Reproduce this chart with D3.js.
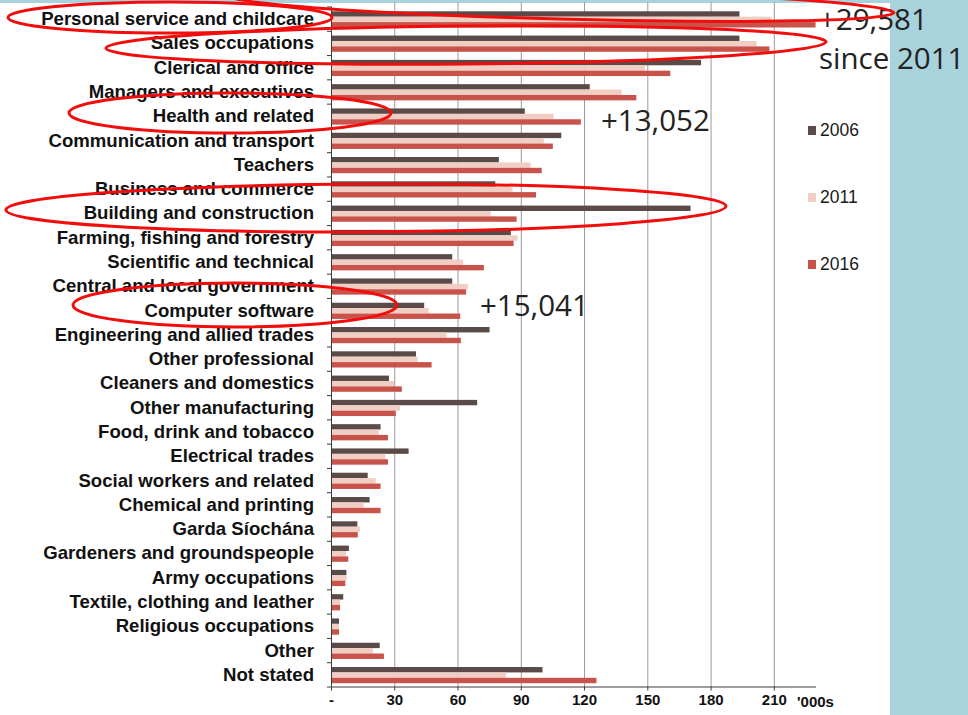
<!DOCTYPE html>
<html>
<head>
<meta charset="utf-8">
<script src="https://cdn.jsdelivr.net/npm/d3@7"></script>
<style>
  body { margin: 0; background: #fff; }
  svg { display: block; }
</style>
</head>
<body>
<svg id="chart" width="968" height="715"></svg>
<script>
// occupations, top to bottom
const categories = [
  "Personal service and childcare", "Sales occupations", "Clerical and office",
  "Managers and executives", "Health and related", "Communication and transport",
  "Teachers", "Business and commerce", "Building and construction",
  "Farming, fishing and forestry", "Scientific and technical",
  "Central and local government", "Computer software",
  "Engineering and allied trades", "Other professional", "Cleaners and domestics",
  "Other manufacturing", "Food, drink and tobacco", "Electrical trades",
  "Social workers and related", "Chemical and printing", "Garda Síochána",
  "Gardeners and groundspeople", "Army occupations",
  "Textile, clothing and leather", "Religious occupations", "Other", "Not stated"
]
const years = ["2006", "2011", "2016"]
// thousands of persons
const v2006 = [193.7, 193.7, 175.5, 122.7, 91.9, 109.2, 79.6, 77.9, 170.5, 85.3, 57.5, 57.5, 44.2, 75.2,
  40.3, 27.5, 69.3, 23.5, 36.8, 17.4, 18.3, 12.5, 8.5, 7.3, 5.8, 3.8, 23.1, 100.3]
const v2011 = [208.9, 201.8, 148.9, 137.8, 105.5, 100.9, 94.7, 86.1, 75.7, 88.5, 62.7, 64.9, 46.3, 54.8,
  41.1, 29.9, 32.7, 22.7, 25.7, 21.2, 15.5, 13.7, 7.1, 7.4, 4.3, 3.8, 19.9, 83.1]
const v2016 = [229.8, 207.9, 160.9, 144.8, 118.5, 105.2, 99.9, 97.2, 88, 86.6, 72.5, 64.1, 61.3, 61.6,
  47.7, 33.6, 30.7, 27, 27, 23.5, 23.5, 12.7, 8.2, 6.8, 4.3, 3.8, 25.1, 125.9]
const xTicks = [0, 30, 60, 90, 120, 150, 180, 210]
const colors = ["#5a4b48", "#f1cec4", "#c8534b"]

// call-outs written on the slide
const notes = [
  { text: "+29,581", x: 819, y: 29.5 },
  { text: "since 2011", x: 819, y: 68.5 },
  { text: "+13,052", x: 601, y: 130.5 },
  { text: "+15,041", x: 480, y: 315.5 }
]
// red hand-drawn rings
const rings = [
  { cx: 170, cy: 17.5, rx: 162, ry: 15.5, rot: 0 },
  { cx: 560, cy: 4, rx: 334, ry: 15, rot: 1.5 },
  { cx: 466, cy: 45, rx: 360, ry: 19, rot: -0.5 },
  { cx: 230, cy: 113, rx: 161, ry: 20, rot: 0 },
  { cx: 366, cy: 208, rx: 360, ry: 24, rot: -0.3 },
  { cx: 235, cy: 305, rx: 162, ry: 22, rot: 0 }
]

const svg = d3.select("#chart")
const plotTop = 6.5, plotBottom = 686.5, plotLeft = 331, plotRight = 816

// slide background pieces
svg.append("rect").attr("x", 0).attr("y", 0).attr("width", 968).attr("height", 3).attr("fill", "#a8d3dc")
svg.append("rect").attr("x", 890).attr("y", 0).attr("width", 78).attr("height", 715).attr("fill", "#a8d3dc")

const x = d3.scaleLinear().domain([0, 230]).range([plotLeft, plotRight])
const y = d3.scaleBand().domain(categories).range([plotTop, plotBottom])
const yInner = d3.scaleBand().domain(years).range([4.8, 4.8 + 16.2])

// vertical gridlines
svg.append("g").selectAll("line")
  .data(xTicks.slice(1))
  .join("line")
  .attr("x1", d => x(d) + 0.5).attr("x2", d => x(d) + 0.5)
  .attr("y1", 2).attr("y2", plotBottom)
  .attr("stroke", "#9a9a9a").attr("stroke-width", 1)

// bars
const series = [v2006, v2011, v2016]
const rows = svg.append("g").selectAll("g")
  .data(categories)
  .join("g")
  .attr("transform", d => `translate(0,${y(d)})`)

rows.selectAll("rect")
  .data((d, i) => years.map((yr, k) => ({ yr, k, v: series[k][i] })))
  .join("rect")
  .attr("x", plotLeft)
  .attr("y", d => yInner(d.yr))
  .attr("width", d => x(d.v) - plotLeft)
  .attr("height", yInner.bandwidth())
  .attr("fill", d => colors[d.k])

// y axis with ticks between categories
const yAxis = svg.append("g")
yAxis.append("line")
  .attr("x1", plotLeft + 0.5).attr("x2", plotLeft + 0.5)
  .attr("y1", plotTop).attr("y2", plotBottom)
  .attr("stroke", "#3a3a3a")
yAxis.selectAll("line.tk")
  .data(d3.range(categories.length + 1))
  .join("line")
  .attr("class", "tk")
  .attr("x1", plotLeft - 4).attr("x2", plotLeft)
  .attr("y1", i => plotTop + i * y.step() + 0.5)
  .attr("y2", i => plotTop + i * y.step() + 0.5)
  .attr("stroke", "#3a3a3a")

svg.append("g").selectAll("text")
  .data(categories)
  .join("text")
  .attr("x", 314)
  .attr("y", d => y(d) + y.bandwidth() / 2 + 6.5)
  .attr("text-anchor", "end")
  .attr("font-family", "'Liberation Sans', Arial, sans-serif")
  .attr("font-weight", "bold")
  .attr("font-size", "18.6px")
  .attr("fill", "#111")
  .text(d => d)

// x axis
const xAxis = d3.axisBottom(x)
  .tickValues(xTicks)
  .tickSize(4)
  .tickFormat(d => d === 0 ? "-" : d)
const gx = svg.append("g")
  .attr("transform", `translate(0,${plotBottom})`)
  .call(xAxis)
gx.select(".domain").attr("d", `M${plotLeft},0.5H${plotRight}`).attr("stroke", "#3a3a3a")
gx.selectAll(".tick line").attr("stroke", "#3a3a3a")
gx.selectAll(".tick text")
  .attr("y", 8)
  .attr("font-family", "'Liberation Sans', Arial, sans-serif")
  .attr("font-weight", "bold")
  .attr("font-size", "15px")
  .attr("fill", "#111")
gx.append("text")
  .attr("x", 797).attr("y", 20)
  .attr("text-anchor", "start")
  .attr("font-family", "'Liberation Sans', Arial, sans-serif")
  .attr("font-weight", "bold")
  .attr("font-size", "15px")
  .attr("fill", "#111")
  .text("'000s")

// legend
const legend = svg.append("g").selectAll("g")
  .data(years)
  .join("g")
  .attr("transform", (d, i) => `translate(808,${136 + i * 67})`)
legend.append("rect")
  .attr("x", 0).attr("y", -10).attr("width", 8).attr("height", 9)
  .attr("fill", (d, i) => colors[i])
legend.append("text")
  .attr("x", 12).attr("y", 0)
  .attr("font-family", "'Liberation Sans', Arial, sans-serif")
  .attr("font-size", "17.5px")
  .attr("fill", "#1a1a1a")
  .text(d => d)

// annotations
svg.append("g").selectAll("text")
  .data(notes)
  .join("text")
  .attr("x", d => d.x).attr("y", d => d.y)
  .attr("font-family", "'Open Sans', 'Noto Sans', sans-serif")
  .attr("font-size", "29.5px")
  .attr("fill", "#222")
  .text(d => d.text)

svg.append("g").selectAll("ellipse")
  .data(rings)
  .join("ellipse")
  .attr("cx", d => d.cx).attr("cy", d => d.cy)
  .attr("rx", d => d.rx).attr("ry", d => d.ry)
  .attr("transform", d => `rotate(${d.rot},${d.cx},${d.cy})`)
  .attr("fill", "none")
  .attr("stroke", "#f20d0d")
  .attr("stroke-width", 3)
</script>
</body>
</html>
